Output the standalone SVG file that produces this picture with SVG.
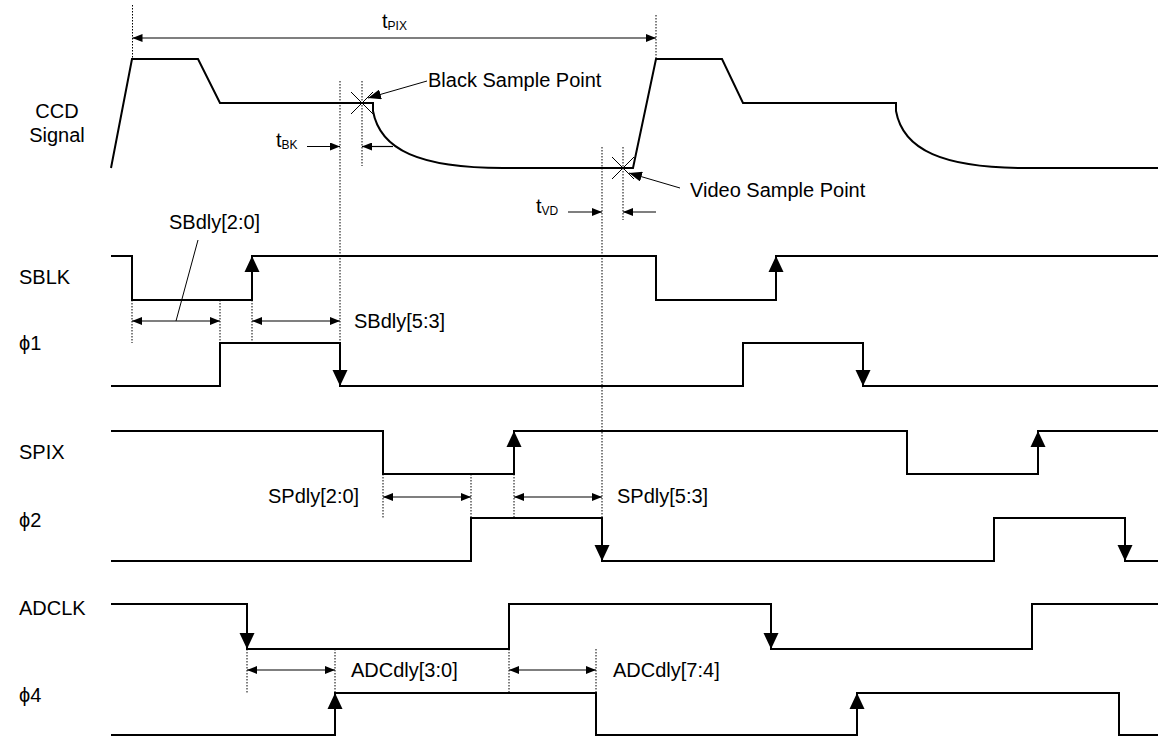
<svg xmlns="http://www.w3.org/2000/svg" width="1161" height="738" viewBox="0 0 1161 738">
<style>
  .sig{fill:none;stroke:#000;stroke-width:2}
  .dot{fill:none;stroke:#000;stroke-width:1;stroke-dasharray:1.5 1.5}
  .dim{fill:none;stroke:#000;stroke-width:1.2}
  .thin{fill:none;stroke:#000;stroke-width:1}
  .ah{fill:#000;stroke:none}
  text{font-family:"Liberation Sans",Arial,"DejaVu Sans",sans-serif;font-size:20px;fill:#000}
  .sub{font-size:12px}
</style>
<defs>
  <marker id="da" viewBox="0 0 10 8" refX="10" refY="4" markerWidth="10" markerHeight="8" markerUnits="userSpaceOnUse" orient="auto-start-reverse">
    <path d="M0,0 L10,4 L0,8 z" fill="#000"/>
  </marker>
  <marker id="la" viewBox="0 0 13 10" refX="13" refY="5" markerWidth="13" markerHeight="10" markerUnits="userSpaceOnUse" orient="auto">
    <path d="M0,0 L13,5 L0,10 z" fill="#000"/>
  </marker>
</defs>
<rect width="1161" height="738" fill="#fff"/>

<g id="labels">
  <text x="57" y="118" text-anchor="middle">CCD</text>
  <text x="57" y="142" text-anchor="middle">Signal</text>
  <text x="19" y="284">SBLK</text>
  <text x="19" y="350">ϕ1</text>
  <text x="19" y="459">SPIX</text>
  <text x="19" y="527">ϕ2</text>
  <text x="19" y="615">ADCLK</text>
  <text x="19" y="702">ϕ4</text>
</g>

<g id="guides">
  <line class="dot" x1="132.5" y1="5" x2="132.5" y2="58"/>
  <line class="dot" x1="656" y1="15" x2="656" y2="58"/>
  <line class="dot" x1="340" y1="81" x2="340" y2="343"/>
  <line class="dot" x1="362" y1="81" x2="362" y2="166"/>
  <line class="dot" x1="602" y1="147" x2="602" y2="518"/>
  <line class="dot" x1="623" y1="147" x2="623" y2="220"/>
  <line class="dot" x1="132" y1="300" x2="132" y2="343"/>
  <line class="dot" x1="220" y1="300" x2="220" y2="343"/>
  <line class="dot" x1="252" y1="300" x2="252" y2="343"/>
  <line class="dot" x1="383" y1="474" x2="383" y2="518"/>
  <line class="dot" x1="471" y1="474" x2="471" y2="518"/>
  <line class="dot" x1="514" y1="474" x2="514" y2="518"/>
  <line class="dot" x1="247" y1="649" x2="247" y2="693"/>
  <line class="dot" x1="335" y1="649" x2="335" y2="693"/>
  <line class="dot" x1="509" y1="649" x2="509" y2="693"/>
  <line class="dot" x1="596" y1="649" x2="596" y2="693"/>
</g>

<g id="ccd">
  <path class="sig" d="M111,168 L132,59 H198 L220,103 H373 V111 C380,150 420,168 503,168 H633 L656,59 H722 L743,103 H896 V111 C903,150 943,168 1026,168 H1158"/>
  <path class="thin" d="M351,92 L373,114 M351,114 L373,92"/>
  <path class="thin" d="M612,157 L634,179 M612,179 L634,157"/>
  <line class="thin" x1="427" y1="81" x2="368" y2="98" marker-end="url(#la)"/>
  <text x="428" y="87">Black Sample Point</text>
  <line class="thin" x1="680" y1="188" x2="629" y2="173" marker-end="url(#la)"/>
  <text x="690" y="197">Video Sample Point</text>
</g>

<g id="timing">
  <line class="dim" x1="132.5" y1="38" x2="656" y2="38" marker-start="url(#da)" marker-end="url(#da)"/>
  <text x="382" y="28">t<tspan class="sub" dy="2">PIX</tspan></text>
  <line class="dim" x1="307" y1="146.5" x2="340" y2="146.5" marker-end="url(#da)"/>
  <line class="dim" x1="393" y1="146.5" x2="362" y2="146.5" marker-end="url(#da)"/>
  <text x="276" y="147">t<tspan class="sub" dy="2">BK</tspan></text>
  <line class="dim" x1="568" y1="212" x2="602" y2="212" marker-end="url(#da)"/>
  <line class="dim" x1="656" y1="212" x2="623" y2="212" marker-end="url(#da)"/>
  <text x="536" y="213">t<tspan class="sub" dy="2">VD</tspan></text>
</g>

<g id="sblk">
  <path class="sig" d="M111,256 H132 V300 H252 V256 H656 V300 H776 V256 H1158"/>
  <polygon class="ah" points="252,256 244.5,272 259.5,272"/>
  <polygon class="ah" points="776,256 768.5,272 783.5,272"/>
</g>
<g id="phi1">
  <path class="sig" d="M111,386 H220 V343 H340 V386 H743 V343 H863 V386 H1158"/>
  <polygon class="ah" points="340,386 332.5,370 347.5,370"/>
  <polygon class="ah" points="863,386 855.5,370 870.5,370"/>
</g>
<g id="sbdly">
  <line class="dim" x1="132" y1="321" x2="220" y2="321" marker-start="url(#da)" marker-end="url(#da)"/>
  <line class="dim" x1="252" y1="321" x2="340" y2="321" marker-start="url(#da)" marker-end="url(#da)"/>
  <line class="thin" x1="198" y1="240" x2="176" y2="321"/>
  <text x="169" y="229">SBdly[2:0]</text>
  <text x="354" y="328">SBdly[5:3]</text>
</g>

<g id="spix">
  <path class="sig" d="M111,431 H383 V474 H514 V431 H907 V474 H1038 V431 H1158"/>
  <polygon class="ah" points="514,431 506.5,447 521.5,447"/>
  <polygon class="ah" points="1038,431 1030.5,447 1045.5,447"/>
</g>
<g id="phi2">
  <path class="sig" d="M111,561 H471 V518 H602 V561 H994 V518 H1125 V561 H1158"/>
  <polygon class="ah" points="602,561 594.5,545 609.5,545"/>
  <polygon class="ah" points="1125,561 1117.5,545 1132.5,545"/>
</g>
<g id="spdly">
  <line class="dim" x1="383" y1="497" x2="471" y2="497" marker-start="url(#da)" marker-end="url(#da)"/>
  <line class="dim" x1="514" y1="497" x2="602" y2="497" marker-start="url(#da)" marker-end="url(#da)"/>
  <text x="268" y="503">SPdly[2:0]</text>
  <text x="617" y="503">SPdly[5:3]</text>
</g>

<g id="adclk">
  <path class="sig" d="M111,604 H247 V649 H509 V604 H771 V649 H1032 V604 H1158"/>
  <polygon class="ah" points="247,649 239.5,633 254.5,633"/>
  <polygon class="ah" points="771,649 763.5,633 778.5,633"/>
</g>
<g id="phi4">
  <path class="sig" d="M111,735 H335 V693 H596 V735 H857 V693 H1119 V735 H1158"/>
  <polygon class="ah" points="335,693 327.5,709 342.5,709"/>
  <polygon class="ah" points="857,693 849.5,709 864.5,709"/>
</g>
<g id="adcdly">
  <line class="dim" x1="247" y1="670" x2="335" y2="670" marker-start="url(#da)" marker-end="url(#da)"/>
  <line class="dim" x1="509" y1="670" x2="596" y2="670" marker-start="url(#da)" marker-end="url(#da)"/>
  <text x="351" y="677">ADCdly[3:0]</text>
  <text x="613" y="677">ADCdly[7:4]</text>
</g>
</svg>
